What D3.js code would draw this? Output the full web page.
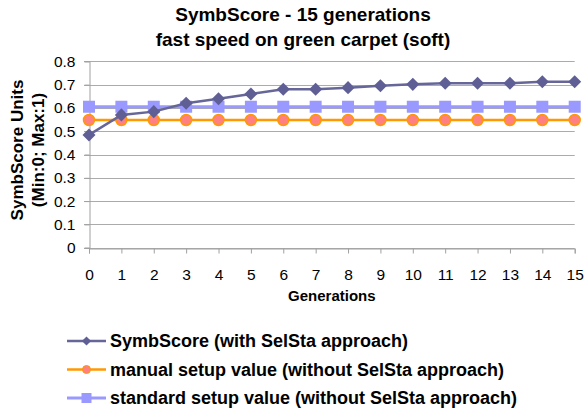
<!DOCTYPE html>
<html>
<head>
<meta charset="utf-8">
<script src="https://cdn.jsdelivr.net/npm/d3@7"></script>
<style>
  body { margin: 0; background: #fff; }
  text { font-family: "Liberation Sans", Arial, sans-serif; fill: #000; }
</style>
</head>
<body>
<div id="chart"></div>
<script>
// generations 0 - 15
const GENERATIONS = [...Array(16).keys()];
const SYMB_SCORE = [0.484, 0.57, 0.584, 0.62, 0.639, 0.66, 0.68, 0.68, 0.687, 0.695, 0.701, 0.706, 0.706, 0.706, 0.712, 0.712];
const MANUAL_SETUP = [0.548, 0.548, 0.548, 0.548, 0.548, 0.548, 0.548, 0.548, 0.548, 0.548, 0.548, 0.548, 0.548, 0.548, 0.548, 0.548];
const STANDARD_SETUP = [0.605, 0.605, 0.605, 0.605, 0.605, 0.605, 0.605, 0.605, 0.605, 0.605, 0.605, 0.605, 0.605, 0.605, 0.605, 0.605];
const Y_TICKS = [0, 0.1, 0.2, 0.3, 0.4, 0.5, 0.6, 0.7, 0.8];
const SERIES_NAMES = [
  "SymbScore (with SelSta approach)",
  "manual setup value (without SelSta approach)",
  "standard setup value (without SelSta approach)",
];

const width = 584;
const height = 409;
const margin = [61.3, 9.3, 161.3, 89];
const [mTop, mRight, mBottom, mLeft] = margin;

const x = d3.scaleLinear().domain([0, 15]).range([mLeft, width - mRight]);
const y = d3.scaleLinear().domain([0, 0.8]).range([height - mBottom, mTop]);

const svg = d3
  .select("#chart")
  .append("svg")
  .attr("width", width)
  .attr("height", height);

// title
const title = svg.append("text").attr("text-anchor", "middle")
  .style("font-weight", "bold").style("font-size", "19px");
title.append("tspan").attr("x", 303).attr("y", 21).text("SymbScore - 15 generations");
title.append("tspan").attr("x", 303).attr("y", 46).text("fast speed on green carpet (soft)");

// gridlines
svg.append("g")
  .selectAll("line")
  .data(Y_TICKS)
  .join("line")
  .attr("x1", mLeft - 5)
  .attr("x2", width - mRight)
  .attr("y1", (d) => Math.round(y(d)) + 0.5)
  .attr("y2", (d) => Math.round(y(d)) + 0.5)
  .attr("stroke", "#ababab");

// y axis
const yAxis = svg.append("g")
  .attr("transform", `translate(${Math.round(mLeft) + 0.5},0)`)
  .call(d3.axisLeft(y).tickValues(Y_TICKS).tickFormat((d) => (d === 0 ? "0" : d3.format(".1f")(d))).tickSize(5).tickPadding(9));
yAxis.select(".domain").attr("stroke", "#a0a0a0");
yAxis.selectAll(".tick line").attr("stroke", "#a0a0a0");
yAxis.selectAll("text").style("font-size", "15.5px").attr("font-family", null);

// x axis
const xAxis = svg.append("g")
  .attr("transform", `translate(0,${Math.round(y(0)) + 0.5})`)
  .call(d3.axisBottom(x).tickValues(GENERATIONS).tickFormat(d3.format("d")).tickSize(5).tickPadding(15));
xAxis.select(".domain").attr("stroke", "#a0a0a0");
xAxis.selectAll(".tick line").attr("stroke", "#a0a0a0");
xAxis.selectAll("text").style("font-size", "15.5px").attr("font-family", null);

// axis titles
svg.append("text")
  .attr("x", x(7.5))
  .attr("y", 301)
  .attr("text-anchor", "middle")
  .style("font-weight", "bold")
  .style("font-size", "15px")
  .text("Generations");

const yTitle = svg.append("text")
  .attr("transform", "translate(0,150) rotate(-90)")
  .attr("text-anchor", "middle")
  .style("font-weight", "bold")
  .style("font-size", "17px");
yTitle.append("tspan").attr("x", 0).attr("y", 23).text("SymbScore Units");
yTitle.append("tspan").attr("x", 0).attr("y", 44).text("(Min:0; Max:1)");

const line = d3.line().x((d, i) => x(GENERATIONS[i])).y((d) => y(d));

const diamond = (size) => {
  const s = Math.sqrt(size) / 2;
  return `M0,${-s * Math.SQRT2}L${s * Math.SQRT2},0L0,${s * Math.SQRT2}L${-s * Math.SQRT2},0Z`;
};

const series = [
  { name: SERIES_NAMES[0], values: SYMB_SCORE, stroke: "#666699", width: 2.5, path: diamond, size: 85, legendSize: 42, fill: "#5f5f96", mstroke: "none" },
  { name: SERIES_NAMES[1], values: MANUAL_SETUP, stroke: "#ff9900", width: 2.5, path: d3.symbol(d3.symbolCircle), size: 95, legendSize: 50, fill: "#ff8080", mstroke: "#ff9900" },
  { name: SERIES_NAMES[2], values: STANDARD_SETUP, stroke: "#9999ff", width: 3, path: d3.symbol(d3.symbolSquare), size: 144, legendSize: 100, fill: "#9999ff", mstroke: "none" },
];

// draw lowest layer first: standard, manual, symb
[series[2], series[1], series[0]].forEach((s) => {
  svg.append("path")
    .datum(s.values)
    .attr("fill", "none")
    .attr("stroke", s.stroke)
    .attr("stroke-width", s.width)
    .attr("d", line);
  svg.append("g")
    .selectAll("path")
    .data(s.values)
    .join("path")
    .attr("transform", (d, i) => `translate(${x(GENERATIONS[i])},${y(d)})`)
    .attr("d", s.path.size ? s.path.size(s.size)() : s.path(s.size))
    .attr("fill", s.fill)
    .attr("stroke", s.mstroke)
    .attr("stroke-width", 1.5);
});

// legend
const legend = svg.append("g").attr("transform", "translate(67,341)");
series.forEach((s, i) => {
  const g = legend.append("g").attr("transform", `translate(0,${i * 28.5})`);
  g.append("line").attr("x1", 0).attr("x2", 39).attr("stroke", s.stroke).attr("stroke-width", s.width);
  g.append("path")
    .attr("transform", "translate(19.5,0)")
    .attr("d", s.path.size ? s.path.size(s.legendSize)() : s.path(s.legendSize))
    .attr("fill", s.fill)
    .attr("stroke", s.mstroke)
    .attr("stroke-width", 1);
  g.append("text")
    .attr("x", 43)
    .attr("dy", "0.35em")
    .style("font-weight", "bold")
    .style("font-size", "18px")
    .text(s.name);
});
</script>
</body>
</html>
